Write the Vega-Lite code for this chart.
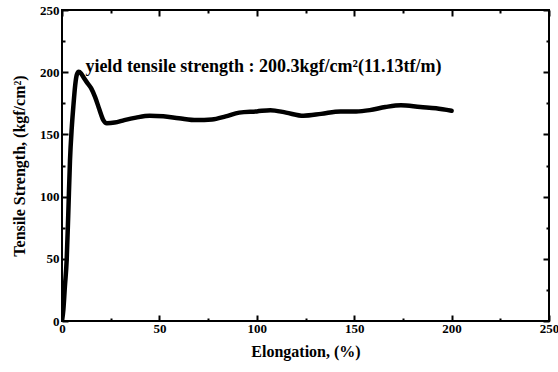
{
  "$schema": "https://vega.github.io/schema/vega-lite/v6.json",
  "width": 487,
  "height": 311,
  "autosize": "none",
  "padding": {"left": 62, "top": 10, "right": 9, "bottom": 51},
  "background": "white",
  "config": {
    "view": {"stroke": "black", "strokeWidth": 2},
    "font": "Liberation Serif",
    "axis": {
      "labelFont": "Liberation Serif",
      "titleFont": "Liberation Serif",
      "labelFontWeight": "bold",
      "titleFontWeight": "bold",
      "labelColor": "black",
      "titleColor": "black",
      "labelFontSize": 13,
      "titleFontSize": 16,
      "domainColor": "black",
      "domainWidth": 2,
      "tickColor": "black",
      "tickWidth": 2,
      "grid": false,
      "zindex": 1
    }
  },
  "datasets": {
    "curve": [
      {"elongation": 0, "strength": 0},
      {"elongation": 0.7, "strength": 9},
      {"elongation": 1.5, "strength": 28},
      {"elongation": 2.4, "strength": 49},
      {"elongation": 3.2, "strength": 85},
      {"elongation": 4.1, "strength": 129},
      {"elongation": 5.0, "strength": 155},
      {"elongation": 5.8, "strength": 172},
      {"elongation": 6.8, "strength": 190},
      {"elongation": 7.6, "strength": 198},
      {"elongation": 8.6, "strength": 200.3},
      {"elongation": 9.8, "strength": 199},
      {"elongation": 11.2, "strength": 195.5},
      {"elongation": 12.7, "strength": 192},
      {"elongation": 15, "strength": 187},
      {"elongation": 17, "strength": 180},
      {"elongation": 19.2, "strength": 170},
      {"elongation": 21.2, "strength": 161.5},
      {"elongation": 23, "strength": 159},
      {"elongation": 27, "strength": 159.5},
      {"elongation": 32, "strength": 161.5},
      {"elongation": 38, "strength": 163.5},
      {"elongation": 45, "strength": 165},
      {"elongation": 52, "strength": 164.5},
      {"elongation": 60, "strength": 163},
      {"elongation": 69, "strength": 161.5},
      {"elongation": 77, "strength": 162},
      {"elongation": 84, "strength": 164.5},
      {"elongation": 91, "strength": 167.5},
      {"elongation": 100, "strength": 168.5},
      {"elongation": 107, "strength": 169.5},
      {"elongation": 115, "strength": 167.5},
      {"elongation": 124, "strength": 165},
      {"elongation": 133, "strength": 166.5},
      {"elongation": 143, "strength": 168.5},
      {"elongation": 151, "strength": 168.5},
      {"elongation": 158, "strength": 169.5},
      {"elongation": 166, "strength": 172},
      {"elongation": 174, "strength": 173.5},
      {"elongation": 184, "strength": 172},
      {"elongation": 192, "strength": 171},
      {"elongation": 200, "strength": 169}
    ],
    "note": [
      {"elongation": 12, "strength": 204, "label": "yield  tensile  strength  :  200.3kgf/cm²(11.13tf/m)"}
    ]
  },
  "layer": [
    {
      "data": {"name": "curve"},
      "mark": {"type": "line", "color": "black", "strokeWidth": 4.5, "strokeCap": "round", "strokeJoin": "round", "interpolate": "monotone", "clip": true},
      "encoding": {
        "x": {
          "field": "elongation", "type": "quantitative",
          "scale": {"domain": [0, 250], "nice": false, "zero": false},
          "axis": {
            "orient": "bottom",
            "domain": false,
            "title": "Elongation, (%)",
            "values": [0, 25, 50, 75, 100, 125, 150, 175, 200, 225, 250],
            "labelExpr": "datum.value % 50 === 0 ? datum.label : ''",
            "tickSize": {"condition": {"test": "datum.value % 50 === 0", "value": -6}, "value": -3},
            "labelPadding": 7,
            "titlePadding": 8,
            "labelFlush": false
          }
        },
        "y": {
          "field": "strength", "type": "quantitative",
          "scale": {"domain": [0, 250], "nice": false, "zero": false},
          "axis": {
            "orient": "left",
            "domain": false,
            "title": "Tensile Strength, (kgf/cm²)",
            "values": [0, 25, 50, 75, 100, 125, 150, 175, 200, 225, 250],
            "labelExpr": "datum.value % 50 === 0 ? datum.label : ''",
            "tickSize": {"condition": {"test": "datum.value % 50 === 0", "value": -6}, "value": -3},
            "labelPadding": 9,
            "titlePadding": 12,
            "labelFlush": false
          }
        }
      }
    },
    {
      "data": {"name": "note"},
      "mark": {"type": "text", "align": "left", "baseline": "middle", "font": "Liberation Serif", "fontWeight": "bold", "fontSize": 18, "color": "black"},
      "encoding": {
        "x": {
          "field": "elongation", "type": "quantitative",
          "axis": {
            "orient": "top", "title": null, "labels": false, "domain": false,
            "values": [0, 25, 50, 75, 100, 125, 150, 175, 200, 225, 250],
            "tickSize": {"condition": {"test": "datum.value % 50 === 0", "value": -6}, "value": -3}
          }
        },
        "y": {
          "field": "strength", "type": "quantitative",
          "axis": {
            "orient": "right", "title": null, "labels": false, "domain": false,
            "values": [0, 25, 50, 75, 100, 125, 150, 175, 200, 225, 250],
            "tickSize": {"condition": {"test": "datum.value % 50 === 0", "value": -6}, "value": -3}
          }
        },
        "text": {"field": "label"}
      }
    }
  ],
  "resolve": {"axis": {"x": "independent", "y": "independent"}}
}
